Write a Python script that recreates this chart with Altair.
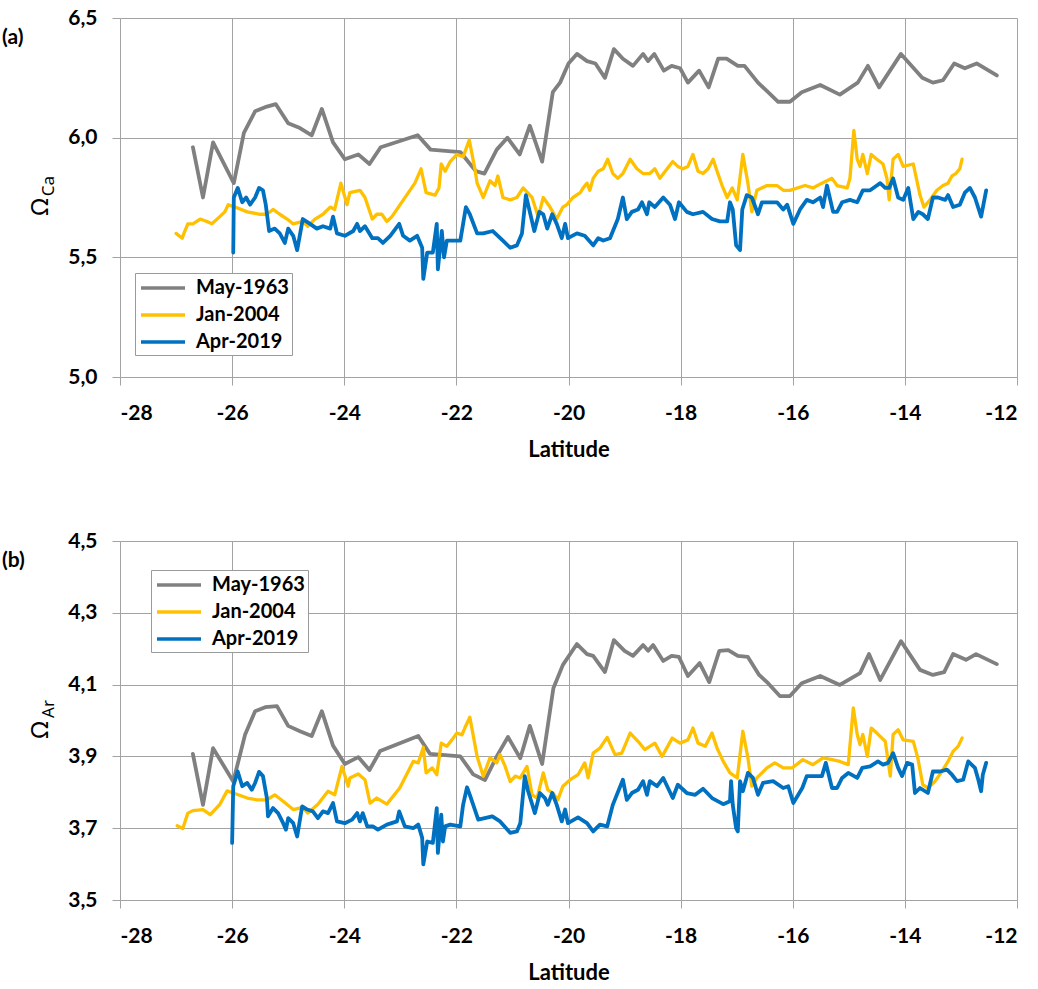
import altair as alt
import pandas as pd

# ---- series names and colours -------------------------------------------
SERIES = ["May-1963", "Jan-2004", "Apr-2019"]
COLORS = ["#808080", "#FFC000", "#0070C0"]
WIDTHS = [3.8, 3.3, 3.8]

# ---- panel (a): calcite saturation --------------------------------------
GRAY_A_LAT = [-26.70, -26.52, -26.34, -25.97, -25.79, -25.59, -25.38, -25.22, -25.00, -24.79,
              -24.58, -24.40, -24.20, -23.99, -23.75, -23.55, -23.35, -22.69, -22.46, -21.93,
              -21.65, -21.50, -21.28, -21.09, -20.87, -20.69, -20.47, -20.28, -20.15, -20.00,
              -19.85, -19.67, -19.52, -19.35, -19.19, -19.03, -18.85, -18.67, -18.58, -18.47,
              -18.30, -18.16, -18.01, -17.87, -17.67, -17.50, -17.33, -17.18, -16.98, -16.86,
              -16.62, -16.44, -16.26, -16.05, -15.84, -15.51, -15.16, -14.84, -14.66, -14.46,
              -14.07, -13.69, -13.50, -13.32, -13.12, -12.93, -12.72, -12.36]
GRAY_A_VAL = [5.96, 5.75, 5.98, 5.81, 6.02, 6.11, 6.13, 6.14, 6.06, 6.04,
              6.01, 6.12, 5.98, 5.91, 5.93, 5.89, 5.96, 6.01, 5.95, 5.94,
              5.86, 5.85, 5.95, 6.00, 5.93, 6.05, 5.90, 6.19, 6.23, 6.31,
              6.35, 6.32, 6.31, 6.25, 6.37, 6.33, 6.30, 6.35, 6.32, 6.35,
              6.28, 6.30, 6.29, 6.23, 6.28, 6.21, 6.33, 6.33, 6.30, 6.30,
              6.23, 6.19, 6.15, 6.15, 6.19, 6.22, 6.18, 6.23, 6.30, 6.21,
              6.35, 6.25, 6.23, 6.24, 6.31, 6.29, 6.31, 6.26]

YEL_A_LAT = [-27.00, -26.89, -26.86, -26.79, -26.70, -26.57, -26.45, -26.36, -26.22, -26.13,
             -26.07, -25.95, -25.73, -25.50, -25.38, -25.27, -25.15, -25.02, -24.91, -24.74,
             -24.65, -24.52, -24.38, -24.25, -24.17, -24.06, -23.95, -23.90, -23.72, -23.63,
             -23.50, -23.42, -23.33, -23.24, -23.15, -22.74, -22.63, -22.54, -22.38, -22.31,
             -22.27, -22.20, -22.11, -21.99, -21.88, -21.77, -21.67, -21.63, -21.52, -21.40,
             -21.31, -21.26, -21.17, -21.04, -20.92, -20.81, -20.65, -20.54, -20.45, -20.33,
             -20.21, -20.10, -20.03, -19.92, -19.79, -19.74, -19.67, -19.62, -19.56, -19.47,
             -19.38, -19.30, -19.21, -19.12, -19.03, -18.90, -18.78, -18.67, -18.55, -18.46,
             -18.37, -18.24, -18.14, -18.05, -17.96, -17.87, -17.78, -17.69, -17.60, -17.51,
             -17.42, -17.35, -17.26, -17.17, -17.08, -16.99, -16.89, -16.80, -16.73, -16.64,
             -16.46, -16.28, -16.17, -16.05, -15.78, -15.64, -15.48, -15.30, -15.21, -15.03,
             -14.98, -14.91, -14.85, -14.80, -14.75, -14.67, -14.60, -14.50, -14.39, -14.32,
             -14.28, -14.21, -14.12, -14.03, -13.85, -13.73, -13.66, -13.55, -13.43, -13.32,
             -13.23, -13.16, -13.09, -13.02, -12.98]
YEL_A_VAL = [5.60, 5.58, 5.60, 5.64, 5.64, 5.66, 5.65, 5.64, 5.67, 5.69,
             5.72, 5.71, 5.69, 5.68, 5.68, 5.70, 5.68, 5.66, 5.64, 5.65,
             5.63, 5.66, 5.68, 5.71, 5.70, 5.81, 5.72, 5.77, 5.78, 5.75,
             5.66, 5.68, 5.68, 5.65, 5.67, 5.81, 5.87, 5.77, 5.76, 5.79,
             5.89, 5.86, 5.90, 5.93, 5.92, 5.99, 5.87, 5.81, 5.75, 5.82,
             5.80, 5.84, 5.75, 5.74, 5.75, 5.79, 5.75, 5.67, 5.75, 5.71,
             5.66, 5.71, 5.72, 5.75, 5.77, 5.79, 5.81, 5.78, 5.83, 5.86,
             5.87, 5.91, 5.85, 5.83, 5.85, 5.91, 5.87, 5.85, 5.85, 5.87,
             5.83, 5.87, 5.90, 5.88, 5.87, 5.88, 5.93, 5.86, 5.85, 5.87,
             5.91, 5.86, 5.80, 5.75, 5.79, 5.74, 5.93, 5.81, 5.69, 5.78,
             5.80, 5.80, 5.78, 5.78, 5.80, 5.79, 5.81, 5.83, 5.80, 5.79,
             5.83, 6.03, 5.91, 5.88, 5.93, 5.85, 5.93, 5.91, 5.89, 5.83,
             5.74, 5.91, 5.93, 5.88, 5.89, 5.76, 5.71, 5.74, 5.78, 5.80,
             5.81, 5.84, 5.85, 5.87, 5.91]

BLUE_A_LAT = [-25.98, -25.97, -25.90, -25.82, -25.75, -25.68, -25.59, -25.52, -25.45, -25.40,
              -25.34, -25.24, -25.15, -25.06, -25.00, -24.91, -24.84, -24.74, -24.61, -24.49,
              -24.38, -24.25, -24.20, -24.13, -23.99, -23.84, -23.77, -23.72, -23.63, -23.50,
              -23.40, -23.31, -23.18, -23.02, -22.95, -22.83, -22.70, -22.61, -22.59, -22.52,
              -22.42, -22.35, -22.33, -22.26, -22.22, -22.17, -21.93, -21.88, -21.83, -21.76,
              -21.63, -21.52, -21.35, -21.17, -21.04, -20.92, -20.83, -20.76, -20.69, -20.61,
              -20.52, -20.45, -20.38, -20.29, -20.21, -20.12, -20.06, -20.01, -19.85, -19.71,
              -19.56, -19.47, -19.38, -19.26, -19.12, -19.03, -18.96, -18.87, -18.76, -18.69,
              -18.60, -18.56, -18.46, -18.31, -18.19, -18.10, -18.03, -17.89, -17.78, -17.60,
              -17.44, -17.30, -17.17, -17.12, -17.07, -17.01, -16.94, -16.90, -16.82, -16.73,
              -16.62, -16.55, -16.41, -16.28, -16.17, -16.10, -15.99, -15.87, -15.75, -15.64,
              -15.51, -15.46, -15.39, -15.28, -15.21, -15.12, -14.98, -14.85, -14.75, -14.62,
              -14.50, -14.44, -14.35, -14.28, -14.21, -14.12, -14.03, -13.94, -13.85, -13.76,
              -13.68, -13.59, -13.50, -13.41, -13.28, -13.23, -13.14, -13.02, -12.93, -12.84,
              -12.75, -12.64, -12.55]
BLUE_A_VAL = [5.52, 5.75, 5.79, 5.73, 5.75, 5.72, 5.75, 5.79, 5.78, 5.72,
              5.61, 5.62, 5.60, 5.56, 5.62, 5.59, 5.53, 5.66, 5.64, 5.62,
              5.63, 5.62, 5.67, 5.60, 5.59, 5.61, 5.64, 5.61, 5.63, 5.58,
              5.58, 5.56, 5.59, 5.64, 5.59, 5.57, 5.59, 5.54, 5.41, 5.52,
              5.52, 5.64, 5.45, 5.61, 5.50, 5.57, 5.57, 5.64, 5.71, 5.68,
              5.60, 5.60, 5.61, 5.57, 5.54, 5.55, 5.60, 5.76, 5.69, 5.61,
              5.69, 5.68, 5.62, 5.68, 5.64, 5.58, 5.64, 5.58, 5.60, 5.59,
              5.55, 5.58, 5.57, 5.58, 5.66, 5.75, 5.66, 5.69, 5.70, 5.73,
              5.68, 5.73, 5.71, 5.75, 5.72, 5.66, 5.73, 5.69, 5.68, 5.69,
              5.66, 5.65, 5.65, 5.73, 5.70, 5.55, 5.53, 5.70, 5.76, 5.75,
              5.68, 5.73, 5.73, 5.73, 5.70, 5.72, 5.64, 5.70, 5.74, 5.73,
              5.75, 5.71, 5.80, 5.69, 5.69, 5.73, 5.74, 5.73, 5.78, 5.78,
              5.80, 5.81, 5.79, 5.79, 5.83, 5.75, 5.74, 5.79, 5.66, 5.69,
              5.68, 5.66, 5.75, 5.75, 5.74, 5.76, 5.71, 5.72, 5.77, 5.79,
              5.75, 5.67, 5.78]

# ---- panel (b): aragonite saturation ------------------------------------
GRAY_B_LAT = [-26.70, -26.52, -26.34, -25.98, -25.77, -25.59, -25.41, -25.20, -25.00, -24.79,
              -24.58, -24.40, -24.20, -23.99, -23.75, -23.55, -23.36, -22.68, -22.47, -21.93,
              -21.70, -21.49, -21.28, -21.08, -20.86, -20.69, -20.47, -20.27, -20.10, -19.85,
              -19.67, -19.56, -19.35, -19.19, -19.00, -18.85, -18.67, -18.58, -18.49, -18.31,
              -18.16, -18.03, -17.87, -17.66, -17.49, -17.31, -17.15, -16.98, -16.80, -16.60,
              -16.44, -16.23, -16.05, -15.84, -15.51, -15.16, -14.80, -14.64, -14.44, -14.07,
              -13.73, -13.50, -13.30, -13.14, -12.91, -12.73, -12.36]
GRAY_B_VAL = [3.907, 3.765, 3.923, 3.830, 3.960, 4.026, 4.037, 4.040, 3.985, 3.970,
              3.957, 4.026, 3.930, 3.879, 3.898, 3.862, 3.915, 3.957, 3.907, 3.900,
              3.850, 3.834, 3.900, 3.954, 3.895, 3.985, 3.879, 4.090, 4.155, 4.213,
              4.185, 4.180, 4.135, 4.224, 4.194, 4.180, 4.210, 4.194, 4.210, 4.166,
              4.180, 4.177, 4.124, 4.160, 4.107, 4.194, 4.196, 4.180, 4.177, 4.127,
              4.104, 4.068, 4.068, 4.104, 4.124, 4.099, 4.132, 4.185, 4.113, 4.221,
              4.141, 4.127, 4.135, 4.185, 4.169, 4.185, 4.157]

YEL_B_LAT = [-26.98, -26.88, -26.79, -26.70, -26.52, -26.39, -26.22, -26.09, -25.98, -25.73,
             -25.56, -25.38, -25.24, -25.09, -24.91, -24.75, -24.65, -24.47, -24.29, -24.17,
             -24.04, -23.93, -23.90, -23.75, -23.63, -23.54, -23.42, -23.24, -23.01, -22.77,
             -22.68, -22.59, -22.54, -22.43, -22.35, -22.27, -22.17, -22.08, -21.99, -21.90,
             -21.85, -21.76, -21.63, -21.52, -21.40, -21.28, -21.22, -21.13, -21.04, -20.95,
             -20.86, -20.74, -20.65, -20.56, -20.45, -20.37, -20.28, -20.19, -20.10, -19.97,
             -19.83, -19.71, -19.65, -19.56, -19.44, -19.31, -19.17, -19.05, -18.90, -18.76,
             -18.64, -18.46, -18.33, -18.15, -18.01, -17.87, -17.78, -17.69, -17.56, -17.44,
             -17.35, -17.24, -17.12, -16.99, -16.89, -16.80, -16.73, -16.64, -16.46, -16.32,
             -16.17, -16.01, -15.82, -15.64, -15.46, -15.30, -15.16, -15.01, -14.92, -14.85,
             -14.80, -14.75, -14.67, -14.60, -14.50, -14.35, -14.26, -14.21, -14.12, -14.03,
             -13.85, -13.77, -13.68, -13.59, -13.46, -13.34, -13.23, -13.14, -13.05, -12.98]
YEL_B_VAL = [3.707, 3.699, 3.742, 3.749, 3.752, 3.738, 3.766, 3.804, 3.798, 3.784,
             3.779, 3.779, 3.793, 3.775, 3.752, 3.758, 3.742, 3.767, 3.803, 3.793,
             3.872, 3.817, 3.840, 3.851, 3.835, 3.770, 3.784, 3.767, 3.812, 3.886,
             3.882, 3.925, 3.854, 3.868, 3.849, 3.937, 3.928, 3.946, 3.965, 3.960,
             3.979, 4.009, 3.900, 3.845, 3.896, 3.882, 3.905, 3.872, 3.830, 3.845,
             3.840, 3.872, 3.793, 3.784, 3.854, 3.807, 3.798, 3.779, 3.817, 3.835,
             3.849, 3.882, 3.840, 3.909, 3.923, 3.953, 3.905, 3.909, 3.965, 3.942,
             3.919, 3.937, 3.900, 3.951, 3.937, 3.946, 3.979, 3.937, 3.928, 3.965,
             3.923, 3.886, 3.854, 3.840, 3.970, 3.896, 3.817, 3.840, 3.868, 3.882,
             3.868, 3.868, 3.891, 3.877, 3.896, 3.891, 3.886, 3.877, 4.035, 3.961,
             3.933, 3.961, 3.900, 3.979, 3.965, 3.942, 3.845, 3.961, 3.974, 3.946,
             3.942, 3.896, 3.821, 3.812, 3.831, 3.858, 3.886, 3.914, 3.928, 3.951]

BLUE_B_LAT = [-26.00, -25.98, -25.90, -25.82, -25.73, -25.65, -25.59, -25.52, -25.45, -25.38,
              -25.36, -25.27, -25.18, -25.09, -25.04, -25.00, -24.91, -24.84, -24.75, -24.66,
              -24.56, -24.47, -24.38, -24.29, -24.20, -24.13, -23.99, -23.86, -23.77, -23.72,
              -23.67, -23.59, -23.49, -23.40, -23.24, -23.06, -23.02, -22.92, -22.77, -22.68,
              -22.61, -22.59, -22.52, -22.42, -22.35, -22.33, -22.27, -22.24, -22.20, -22.11,
              -21.93, -21.88, -21.81, -21.76, -21.61, -21.36, -21.22, -21.04, -20.92, -20.86,
              -20.78, -20.72, -20.60, -20.51, -20.42, -20.37, -20.29, -20.21, -20.12, -20.06,
              -20.01, -19.83, -19.67, -19.56, -19.44, -19.31, -19.21, -19.03, -18.96, -18.87,
              -18.76, -18.67, -18.60, -18.55, -18.42, -18.31, -18.14, -18.05, -17.89, -17.74,
              -17.60, -17.44, -17.24, -17.12, -17.10, -17.07, -17.01, -16.98, -16.94, -16.89,
              -16.80, -16.71, -16.62, -16.53, -16.35, -16.17, -16.08, -15.99, -15.83, -15.75,
              -15.60, -15.48, -15.41, -15.30, -15.21, -15.12, -15.01, -14.85, -14.76, -14.62,
              -14.48, -14.39, -14.30, -14.21, -14.12, -14.05, -13.96, -13.87, -13.82, -13.73,
              -13.59, -13.50, -13.37, -13.25, -13.16, -13.07, -12.96, -12.87, -12.75, -12.69,
              -12.64, -12.61, -12.55]
BLUE_B_VAL = [3.659, 3.817, 3.858, 3.817, 3.826, 3.807, 3.826, 3.857, 3.845, 3.784,
              3.733, 3.756, 3.742, 3.714, 3.696, 3.728, 3.714, 3.677, 3.761, 3.752,
              3.747, 3.728, 3.747, 3.742, 3.770, 3.719, 3.714, 3.724, 3.742, 3.719,
              3.742, 3.705, 3.705, 3.696, 3.710, 3.719, 3.747, 3.705, 3.700, 3.710,
              3.673, 3.599, 3.663, 3.659, 3.756, 3.631, 3.738, 3.663, 3.705, 3.710,
              3.705, 3.765, 3.814, 3.793, 3.724, 3.733, 3.719, 3.687, 3.691, 3.714,
              3.845, 3.803, 3.742, 3.798, 3.784, 3.765, 3.798, 3.765, 3.719, 3.752,
              3.714, 3.730, 3.714, 3.691, 3.710, 3.705, 3.765, 3.835, 3.779, 3.798,
              3.807, 3.831, 3.793, 3.831, 3.817, 3.840, 3.784, 3.821, 3.798, 3.793,
              3.810, 3.784, 3.767, 3.775, 3.831, 3.765, 3.700, 3.691, 3.831, 3.803,
              3.854, 3.840, 3.793, 3.826, 3.831, 3.812, 3.817, 3.770, 3.812, 3.845,
              3.845, 3.845, 3.882, 3.812, 3.812, 3.840, 3.854, 3.840, 3.868, 3.872,
              3.886, 3.877, 3.882, 3.909, 3.868, 3.845, 3.882, 3.877, 3.798, 3.812,
              3.798, 3.858, 3.858, 3.863, 3.849, 3.831, 3.835, 3.886, 3.868, 3.835,
              3.803, 3.849, 3.882]

X_TICKS = [-28, -26, -24, -22, -20, -18, -16, -14, -12]
Y_TICKS_A = [5.0, 5.5, 6.0, 6.5]
Y_TICKS_B = [3.5, 3.7, 3.9, 4.1, 4.3, 4.5]

GRID = "#a3a3a3"
BOLD_FONT = "Lato"
SYMBOL_FONT = "Noto Sans"
PLOT_W, PLOT_H = 897, 359


def frame(pairs):
    rows = []
    for name, (lats, vals) in zip(SERIES, pairs):
        for i, (la, v) in enumerate(zip(lats, vals)):
            rows.append({"lat": la, "val": v, "series": name, "idx": i})
    return pd.DataFrame(rows)


def panel(data, y_domain, y_ticks, tag, sub, legend_x, legend_y):
    x_axis = alt.Axis(values=X_TICKS, title="Latitude",
                      labelExpr="(datum.value < 0 ? '-' : '') + format(abs(datum.value), 'd')",
                      labelPadding=17, titlePadding=16)
    y_axis = alt.Axis(values=y_ticks, title=None,
                      labelExpr="replace(format(datum.value, '.1f'), '.', ',')",
                      labelPadding=15)
    legend = alt.Legend(orient="none", legendX=legend_x, legendY=legend_y, title=None,
                        symbolType="M-2.2,0H2.2", symbolSize=400, symbolStrokeWidth=3.5,
                        symbolOffset=13, labelOffset=21, labelFont=BOLD_FONT,
                        labelFontSize=20, labelFontWeight="bold", labelColor="black",
                        fillColor="white", strokeColor="#9a9a9a", padding=3, rowPadding=5)
    color = alt.Color("series:N", scale=alt.Scale(domain=SERIES, range=COLORS),
                      legend=legend, sort=SERIES)
    layers = []
    for name, w in zip(SERIES, WIDTHS):
        layers.append(
            alt.Chart(data)
            .transform_filter(alt.datum.series == name)
            .mark_line(strokeWidth=w, strokeJoin="round", strokeCap="round")
            .encode(
                x=alt.X("lat:Q", scale=alt.Scale(domain=[-28, -12], nice=False), axis=x_axis),
                y=alt.Y("val:Q", scale=alt.Scale(domain=y_domain, nice=False, zero=False), axis=y_axis),
                color=color,
                order="idx:Q",
            )
        )
    tag_text = alt.Chart(pd.DataFrame({"t": [tag]})).mark_text(
        font=BOLD_FONT, fontSize=21, fontWeight="bold", align="left", baseline="middle", color="black"
    ).encode(text="t:N", x=alt.value(-118), y=alt.value(20))
    omega = alt.Chart(pd.DataFrame({"t": ["Ω"]})).mark_text(
        font=SYMBOL_FONT, fontSize=24, angle=270, align="center", baseline="middle", color="black"
    ).encode(text="t:N", x=alt.value(-79), y=alt.value(189))
    subscript = alt.Chart(pd.DataFrame({"t": [sub]})).mark_text(
        font=SYMBOL_FONT, fontSize=17, angle=270, align="center", baseline="middle", color="black"
    ).encode(text="t:N", x=alt.value(-71), y=alt.value(168))
    return alt.layer(*layers, tag_text, omega, subscript).properties(width=PLOT_W, height=PLOT_H)


top = panel(frame([(GRAY_A_LAT, GRAY_A_VAL), (YEL_A_LAT, YEL_A_VAL), (BLUE_A_LAT, BLUE_A_VAL)]),
            [5.0, 6.5], Y_TICKS_A, "(a)", "Ca", 15, 255)
bottom = panel(frame([(GRAY_B_LAT, GRAY_B_VAL), (YEL_B_LAT, YEL_B_VAL), (BLUE_B_LAT, BLUE_B_VAL)]),
               [3.5, 4.5], Y_TICKS_B, "(b)", "Ar", 31, 29)

chart = (
    alt.vconcat(top, bottom, spacing=70)
    .resolve_scale(color="independent")
    .resolve_legend(color="independent")
    .properties(padding={"left": 2, "top": 7, "right": 5, "bottom": 5}, background="white")
    .configure_view(stroke=None)
    .configure_axis(
        grid=True, gridColor=GRID, gridWidth=1, domain=False,
        tickColor=GRID, tickSize=8, tickWidth=1,
        labelFont=BOLD_FONT, labelFontSize=21, labelFontWeight="bold", labelColor="black",
        titleFont=BOLD_FONT, titleFontSize=22, titleFontWeight="bold", titleColor="black",
    )
)

chart.save("out.html", embed_options={"renderer": "svg", "actions": False})
